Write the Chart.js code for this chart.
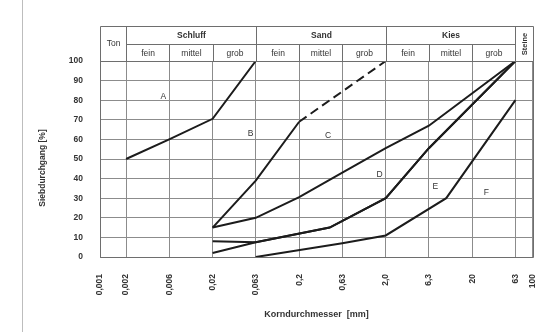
<!DOCTYPE html>
<html><head><meta charset="utf-8">
<script src="https://cdn.jsdelivr.net/npm/chart.js@4.4.0/dist/chart.umd.min.js"></script>
<style>html,body{margin:0;padding:0;background:#fff;}#wrap{width:560px;height:332px;}</style>
</head><body><div id="wrap"><canvas id="c" width="560" height="332"></canvas></div>
<script>
const FONT = '"Liberation Sans", Arial, sans-serif';

// x axis ticks (grain size, mm) and their printed labels
const tickValues = [0.001, 0.002, 0.0063, 0.02, 0.063, 0.2, 0.63, 2, 6.3, 20, 63, 100];
const tickLabels = ['0,001', '0,002', '0,006', '0,02', '0,063', '0,2', '0,63', '2,0', '6,3', '20', '63', '100'];
const yTickValues = [0, 10, 20, 30, 40, 50, 60, 70, 80, 90, 100];

// header classification
const groupNames = ['Schluff', 'Sand', 'Kies'];
const groupBounds = [[0.002, 0.063], [0.063, 2], [2, 63]];
const subNames = ['fein', 'mittel', 'grob'];

// curves: grain size [mm] and passing [%]
const sizeA = [0.002, 0.0063, 0.02, 0.063];
const passA = [50, 60, 70.5, 100];
const sizeB = [0.02, 0.063, 0.2];
const passB = [15, 39, 69];
const sizeBdash = [0.2, 2];
const passBdash = [69, 100];
const sizeC = [0.02, 0.063, 0.2, 0.63, 2, 6.3, 63];
const passC = [15, 20, 30.5, 43, 55.5, 67, 100];
const sizeD = [0.02, 0.063, 0.45, 2, 6.3, 63];
const passD = [8, 7.5, 15, 30, 55.5, 100];
const sizeE = [0.02, 0.063, 0.45, 2, 6.3, 63];
const passE = [2, 7.5, 15, 30, 55.5, 100];
const sizeF = [0.063, 0.63, 2, 10, 63];
const passF = [0, 7, 11, 30, 80];

// curve letters and their anchor in data units
const curveNames = ['A', 'B', 'C', 'D', 'E', 'F'];
const curveLabelX = [0.0054, 0.055, 0.43, 1.7, 7.5, 29];
const curveLabelY = [82, 63, 62, 42, 36, 33];

const pts = (xs, ys) => xs.map((x, i) => ({x: x, y: ys[i]}));
const LINE = '#1c1c1c';
const mk = (label, xs, ys, dash) => ({
  label, data: pts(xs, ys), showLine: true, borderColor: LINE, borderWidth: 2,
  pointRadius: 0, borderDash: dash || [], tension: 0, fill: false
});

const headerPlugin = {
  id: 'header',
  afterDraw(chart) {
    const ctx = chart.ctx, a = chart.chartArea, xs = chart.scales.x;
    const X = v => Math.round(xs.getPixelForValue(v)) + 0.5;
    const top = 26.5, mid = 44.5, bot = Math.round(a.top) + 0.5;
    const L = Math.round(a.left) + 0.5, R = Math.round(a.right) + 0.5;
    ctx.save();
    ctx.strokeStyle = '#bdbdbd'; ctx.lineWidth = 1;
    ctx.beginPath(); ctx.moveTo(22.5, 0); ctx.lineTo(22.5, 332); ctx.stroke();
    ctx.strokeStyle = '#6e6e6e'; ctx.lineWidth = 1;
    ctx.beginPath();
    ctx.rect(L, top, R - L, bot - top);
    ctx.moveTo(X(0.002), mid); ctx.lineTo(X(63), mid);
    [0.002, 0.063, 2, 63].forEach(v => { ctx.moveTo(X(v), top); ctx.lineTo(X(v), bot); });
    [0.0063, 0.02, 0.2, 0.63, 6.3, 20].forEach(v => { ctx.moveTo(X(v), mid); ctx.lineTo(X(v), bot); });
    ctx.stroke();
    ctx.beginPath(); ctx.rect(L, bot, R - L, Math.round(a.bottom) - Math.round(a.top)); ctx.stroke();
    ctx.fillStyle = '#333'; ctx.textAlign = 'center'; ctx.textBaseline = 'middle';
    groupNames.forEach((g, i) => {
      const [lo, hi] = groupBounds[i];
      ctx.font = 'bold 8.5px ' + FONT;
      ctx.fillText(g, (X(lo) + X(hi)) / 2, (top + mid) / 2);
      const sub = [lo, lo * Math.pow(hi / lo, 1/3), lo * Math.pow(hi / lo, 2/3), hi];
      ctx.font = '8.5px ' + FONT;
      for (let k = 0; k < 3; k++) ctx.fillText(subNames[k], (X(sub[k]) + X(sub[k + 1])) / 2, (mid + bot) / 2 + 0.5);
    });
    ctx.font = '8.5px ' + FONT;
    ctx.fillText('Ton', (L + X(0.002)) / 2, (top + bot) / 2);
    ctx.save();
    ctx.translate((X(63) + R) / 2, (top + bot) / 2);
    ctx.rotate(-Math.PI / 2);
    ctx.font = 'bold 7.5px ' + FONT;
    ctx.fillText('Steine', 0, 0);
    ctx.restore();
    // y axis title
    ctx.save();
    ctx.translate(43, (a.top + a.bottom) / 2 + 9);
    ctx.rotate(-Math.PI / 2);
    ctx.font = 'bold 8.5px ' + FONT;
    ctx.fillText('Siebdurchgang [%]', 0, 0);
    ctx.restore();
    // curve letters
    ctx.font = '8.5px ' + FONT;
    curveNames.forEach((n, i) => {
      ctx.fillText(n, xs.getPixelForValue(curveLabelX[i]), chart.scales.y.getPixelForValue(curveLabelY[i]));
    });
    ctx.restore();
  }
};

new Chart(document.getElementById('c'), {
  type: 'scatter',
  data: {
    datasets: [
      mk('A', sizeA, passA), mk('B', sizeB, passB), mk('B2', sizeBdash, passBdash, [9, 5]),
      mk('C', sizeC, passC), mk('D', sizeD, passD), mk('E', sizeE, passE), mk('F', sizeF, passF)
    ]
  },
  options: {
    responsive: false, animation: false, devicePixelRatio: 1,
    layout: {padding: {left: 22, right: 7, top: 61, bottom: 0}},
    plugins: {legend: {display: false}, tooltip: {enabled: false}},
    scales: {
      x: {
        type: 'logarithmic', min: 0.001, max: 100,
        afterBuildTicks: s => { s.ticks = tickValues.map(v => ({value: v})); },
        afterFit: s => { s.height = 75; },
        grid: {color: '#8c8c8c', lineWidth: 1, drawTicks: false},
        border: {display: false},
        ticks: {
          autoSkip: false, minRotation: 90, maxRotation: 90, padding: 17,
          color: '#333', font: {family: FONT, size: 8.5, weight: 'bold'},
          callback: (v, i) => tickLabels[i]
        },
        title: {display: true, text: 'Korndurchmesser  [mm]', color: '#333',
          font: {family: FONT, size: 9, weight: 'bold'}, padding: {top: 0, bottom: 12}}
      },
      y: {
        min: 0, max: 100,
        afterBuildTicks: s => { s.ticks = yTickValues.map(v => ({value: v})); },
        afterFit: s => { s.width = 78; },
        grid: {color: '#8c8c8c', lineWidth: 1, drawTicks: false},
        border: {display: false},
        ticks: {padding: 17, color: '#333', font: {family: FONT, size: 8.5, weight: 'bold'}},
        title: {display: false}
      }
    }
  },
  plugins: [headerPlugin]
});
</script></body></html>
